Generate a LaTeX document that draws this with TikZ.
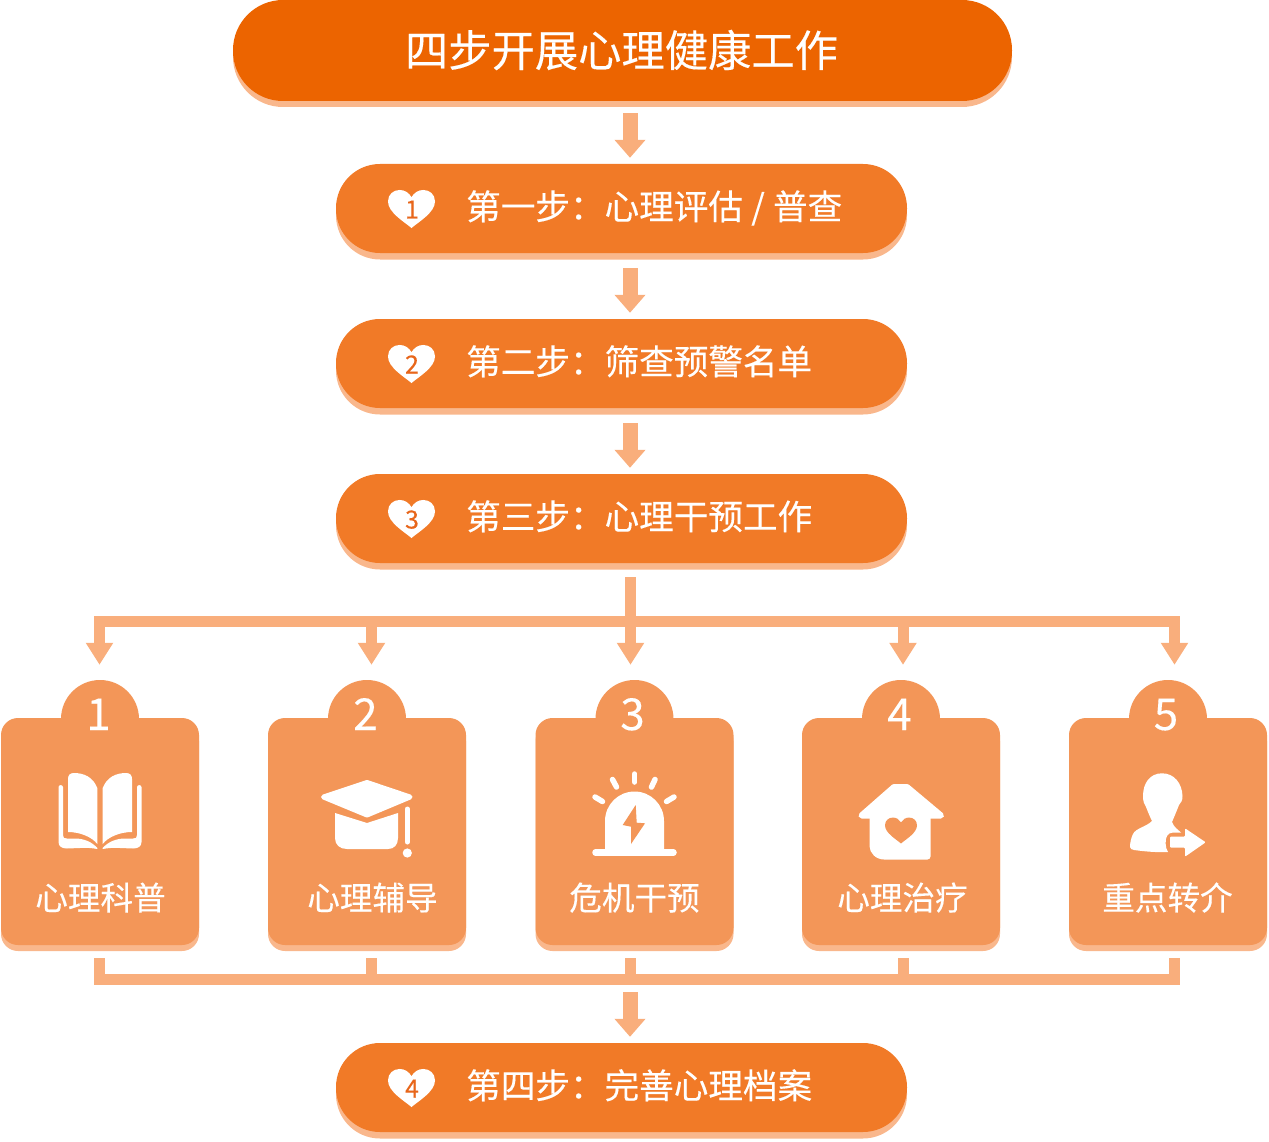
\documentclass[tikz,border=0pt]{standalone}
\usepackage{fontspec}
\setmainfont[FakeBold=0.25]{Noto Sans CJK SC}
\usepackage{xcolor}
\usetikzlibrary{positioning,calc,arrows.meta}

\definecolor{titleorange}{HTML}{EC6400}
\definecolor{steporange}{HTML}{F17A27}
\definecolor{cardorange}{HTML}{F39658}
\definecolor{shadeorange}{HTML}{F9B78C}
\definecolor{linkorange}{HTML}{F9AE7C}
\definecolor{digitorange}{HTML}{E8661A}

\tikzset{
    titlepill/.style={fill=titleorange, inner sep=0pt, minimum width=779pt, minimum height=101pt, rounded corners=50pt},
    titletext/.style={text=white, inner sep=0pt, font=\fontsize{43.3}{43}\selectfont},
    steppill/.style={fill=steporange, inner sep=0pt, minimum width=571pt, minimum height=89pt, rounded corners=44pt},
    pillshadow/.style={fill=shadeorange, draw=none},
    steptext/.style={text=white, inner sep=0pt, anchor=base west, font=\fontsize{34.6}{34.6}\selectfont},
    heartdigit/.style={text=digitorange, inner sep=0pt, anchor=base, font=\fontsize{25}{25}\selectfont},
    cardbox/.style={fill=cardorange, inner sep=0pt, minimum width=198pt, minimum height=227pt, rounded corners=17pt},
    cardtab/.style={circle, fill=cardorange, inner sep=0pt, minimum size=78pt},
    carddigit/.style={text=white, inner sep=0pt, anchor=base, font=\fontsize{44}{44}\selectfont},
    cardtext/.style={text=white, inner sep=0pt, anchor=base, font=\fontsize{32.6}{32}\selectfont},
    blockarrow/.style={draw=linkorange, line width=15pt, -{Triangle[length=18pt,width=30pt]}, shorten <=#1, shorten >=6pt},
    droparrow/.style={draw=linkorange, line width=11pt, -{Triangle[length=22pt,width=26pt]}, shorten >=15pt},
    busline/.style={draw=linkorange, line width=11pt, line cap=rect},
    stubline/.style={draw=linkorange, line width=11pt, shorten <=13pt},
    iconline/.style={draw=white, line cap=round, line join=round}
}

\newcommand{\heartshape}[1]{
    \fill[#1] (0,0.81) .. controls (-0.3,0.55) and (-1,0.15) .. (-1,-0.32) .. controls (-1,-0.62) and (-0.78,-0.81) .. (-0.5,-0.81) .. controls (-0.28,-0.81) and (-0.1,-0.68) .. (0,-0.5) .. controls (0.1,-0.68) and (0.28,-0.81) .. (0.5,-0.81) .. controls (0.78,-0.81) and (1,-0.62) .. (1,-0.32) .. controls (1,0.15) and (0.3,0.55) .. (0,0.81) -- cycle;
}

\begin{document}
\begin{tikzpicture}[x=1pt, y=-1pt]
    \useasboundingbox (0,0) rectangle (1269,1142);

    % Title
    \node[titlepill, pillshadow] (titleshade) at (622.5,56.5) {};
    \node[titlepill] (title) at (622.5,50.5) {};
    \node[titletext] (titlelabel) at (621.5,50) {四步开展心理健康工作};

    % Steps
    \foreach \i/\y/\txt in {1/208.5/{第一步：心理评估\hspace{0.5pt} / \hspace{0.5pt}普查}, 2/363.5/第二步：筛查预警名单, 3/518.5/第三步：心理干预工作, 4/1087.5/第四步：完善心理档案} {
        \node[steppill, pillshadow] (shade\i) at (621.5,\y+6.5) {};
        \node[steppill] (step\i) at (621.5,\y) {};
        \node[steptext] (steptxt\i) at (466,\y+11) {\txt};
        \begin{scope}[shift={(411.5,\y+0.5)}, scale=23.5]
            \heartshape{white}
        \end{scope}
        \node[heartdigit] (heartnum\i) at (412,\y+10) {\i};
    }

    % Cards
    \foreach \i/\cx/\nx/\lx/\txt in {1/100/98.5/100.5/心理科普, 2/367/365.5/372.5/心理辅导, 3/634.5/632.5/634.5/危机干预, 4/901/899.5/902.5/心理治疗, 5/1168/1166/1167.5/重点转介} {
        \node[cardbox, pillshadow] (cardshade\i) at (\cx,837.5) {};
        \node[cardtab] (tab\i) at (\cx,719) {};
        \node[cardbox] (card\i) at (\cx,831.5) {};
        \node[carddigit] (num\i) at (\nx,730) {\i};
        \node[cardtext] (label\i) at (\lx,910) {\txt};
    }

    % Arrows between the steps
    \coordinate (axis) at (630,0);
    \draw[blockarrow=12pt] (title.south -| axis) -- (step1.north -| axis);
    \draw[blockarrow=15pt] (step1.south -| axis) -- (step2.north -| axis);
    \draw[blockarrow=15pt] (step2.south -| axis) -- (step3.north -| axis);

    % Split above the cards
    \foreach \i/\x in {1/99.5, 2/371.5, 3/630.5, 4/903, 5/1174.5} {
        \coordinate (drop\i) at (\x,621.5);
        \coordinate (merge\i) at (\x,979.5);
    }
    \draw[busline] (drop1) -- (drop5);
    \foreach \i in {1,2,4,5}
        \draw[droparrow] (drop\i) -- (drop\i |- tab\i.north);
    \draw[droparrow, shorten <=14pt] (step3.south -| drop3) -- (drop3 |- tab3.north);

    % Merge below the cards
    \draw[busline] (merge1) -- (merge5);
    \foreach \i in {1,...,5}
        \draw[stubline] (card\i.south -| merge\i) -- (merge\i);
    \draw[blockarrow=12.5pt] (merge3 -| axis) -- (step4.north -| axis);

    % Book
    \foreach \side in {1,-1} {
        \begin{scope}[shift={(100,0)}, xscale=\side]
            \fill[white] (-32,779) .. controls (-32,775) and (-30,773) .. (-26,773) .. controls (-16,773) and (-7,777) .. (-2.7,788) -- (-2.7,844) .. controls (-8,837) and (-20,832) .. (-32,832) -- cycle;
            \fill[white] (-41.5,787) .. controls (-41.5,784.5) and (-37,784.5) .. (-37,787) -- (-37,835) .. controls (-37,838) and (-36,838.5) .. (-33,838.5) -- (-25,838.5) .. controls (-16,838.5) and (-8,842) .. (-2.7,848) -- (-2.7,849) .. controls (-8,848) and (-14,847.5) .. (-20,848) -- (-33,848.5) .. controls (-38,848.5) and (-41.5,846.5) .. (-41.5,842) -- cycle;
        \end{scope}
    }

    % Graduation cap
    \filldraw[iconline, fill=white, line width=5pt] (323.5,797) -- (367,782.5) -- (410,797) -- (367,815) -- cycle;
    \fill[white] (335,813) -- (367,823) -- (398,813) -- (398,838) .. controls (398,845) and (394,849) .. (388,849) -- (347,849) .. controls (340,849) and (335,845) .. (335,838) -- cycle;
    \draw[iconline, line width=5pt] (407.3,809) -- (407.3,842);
    \fill[white] (407.3,853) circle (4.6);

    % Alarm beacon
    \draw[iconline, line width=6.5pt] (595.5,852.5) -- (673.5,852.5);
    \fill[white] (605,850) -- (605,821) arc[start angle=180, delta angle=180, radius=29.5] -- (664,850) -- cycle;
    \fill[cardorange] (635.7,805) -- (622.7,825) -- (631,826.7) -- (631,844) -- (645,823.3) -- (636.7,822.7) -- cycle;
    \foreach \xa/\ya/\xb/\yb in {634.7/774/634.7/782, 612.5/779.5/616.5/787, 655/779.5/651.5/787, 595/797/602.5/801.5, 674/797/666.5/801.5}
        \draw[iconline, line width=5.5pt] (\xa,\ya) -- (\xb,\yb);

    % House with heart
    \filldraw[iconline, fill=white, line width=6pt] (861.5,815.5) -- (894,787) -- (907,787) -- (941,815.5) -- cycle;
    \fill[white, rounded corners=3pt] (869.5,812) -- (930.5,812) -- (930.5,859.5) -- (887,859.5) .. controls (876,859.5) and (869.5,853) .. (869.5,843) -- cycle;
    \begin{scope}[shift={(901,830.5)}, scale=16]
        \heartshape{cardorange}
    \end{scope}

    % Person with arrow
    \fill[white] (1162,773.3) .. controls (1150,773.3) and (1143,783) .. (1143,796) .. controls (1143,801) and (1144,804) .. (1146,807) .. controls (1148,812) and (1150,817) .. (1152,821) .. controls (1146,827) and (1136,828) .. (1133,834) .. controls (1131,838) and (1130,843) .. (1130,847) .. controls (1130,849) and (1132,849.5) .. (1134,850) .. controls (1145,851.5) and (1156,852.5) .. (1168,852) .. controls (1165,848) and (1165,839) .. (1167,836) .. controls (1168,834) and (1170,832.5) .. (1173,832.5) -- (1181,832.5) .. controls (1177,829) and (1174,827) .. (1172,822) .. controls (1175,815) and (1177,810) .. (1179,805) .. controls (1181,803) and (1182.7,800) .. (1182.5,796) .. controls (1182,783) and (1174,773.3) .. (1162,773.3) -- cycle;
    \fill[white, rounded corners=1pt] (1170,836.7) -- (1185,836.7) -- (1185,828.3) -- (1205.7,842.3) -- (1185,856.7) -- (1185,847.7) -- (1170,847.7) -- cycle;
\end{tikzpicture}
\end{document}
